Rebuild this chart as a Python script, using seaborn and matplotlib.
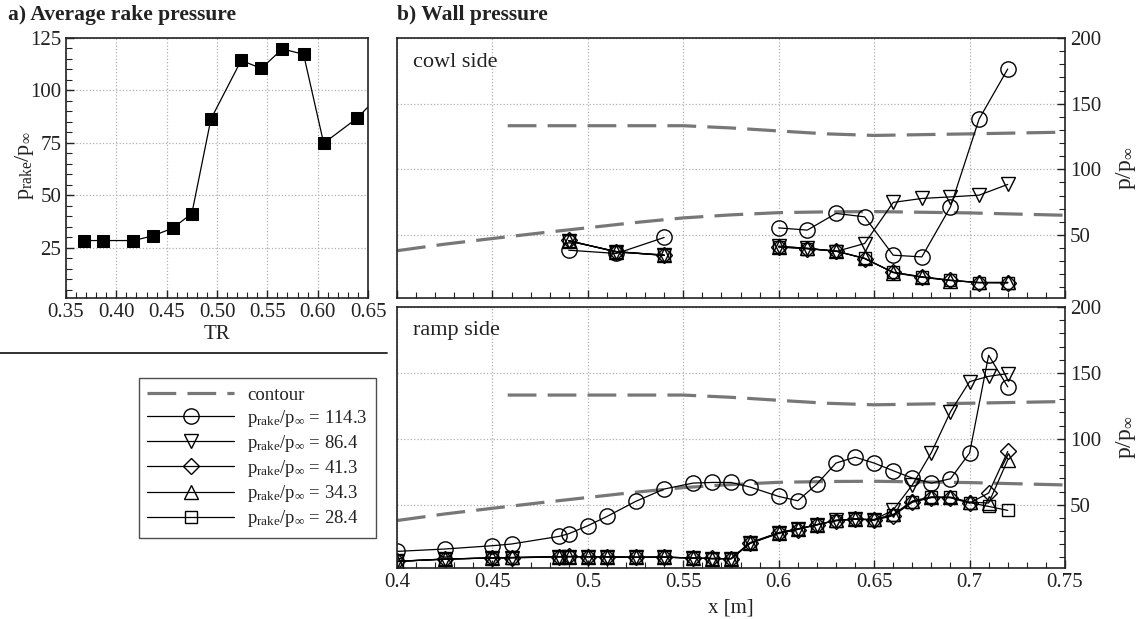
import numpy as np
import pandas as pd
import matplotlib
matplotlib.use("Agg")
import matplotlib.pyplot as plt
from matplotlib.lines import Line2D
from matplotlib.ticker import MultipleLocator, FuncFormatter
import seaborn as sns

# ---------------- a) average rake pressure vs throttling ratio ----------------
tr = [0.368, 0.387, 0.417, 0.436, 0.456, 0.475, 0.494, 0.524, 0.544, 0.565,
      0.586, 0.606, 0.639, 0.660]
p_rake = [28.4, 28.4, 28.4, 30.6, 34.3, 41.3, 86.4, 114.3, 110.5, 119.8,
          117.2, 74.8, 86.7, 97.0]

# ---------------- b) wall pressure, cowl side ----------------
cowl_x = [0.49, 0.515, 0.54, 0.60, 0.615, 0.63, 0.645, 0.66, 0.675, 0.69, 0.705, 0.72]
cowl_seg = [0, 0, 0, 1, 1, 1, 1, 1, 1, 1, 1, 1]
cowl_114 = [38.4, 35.9, 48.1, 55.4, 53.7, 66.4, 63.8, 34.6, 33.3, 71.4, 138.3, 176.4]
cowl_86 = [45.5, 37.3, 34.4, 41.5, 39.8, 37.4, 43.5, 74.8, 77.8, 79.0, 80.3, 88.5]
cowl_41 = [45.8, 37.0, 34.8, 41.0, 39.5, 37.9, 32.0, 21.6, 18.2, 15.6, 13.6, 13.8]
cowl_34 = [45.3, 37.4, 34.6, 41.2, 39.9, 37.6, 32.3, 21.3, 17.8, 15.3, 13.9, 13.9]
cowl_28 = [45.6, 37.1, 34.5, 40.8, 39.6, 37.7, 32.1, 21.5, 18.0, 15.4, 13.7, 13.4]

# ---------------- b) wall pressure, ramp side ----------------
ramp_x = [0.40, 0.425, 0.45, 0.46, 0.485, 0.49, 0.50, 0.51, 0.525, 0.54, 0.555,
          0.565, 0.575, 0.585, 0.60, 0.61, 0.62, 0.63, 0.64, 0.65, 0.66, 0.67,
          0.68, 0.69, 0.70, 0.71, 0.72]
ramp_114 = [14.6, 16.4, 18.9, 20.2, 26.0, 28.0, 34.1, 41.1, 52.5, 61.9, 66.4,
            66.9, 66.9, 63.4, 56.3, 53.0, 65.7, 81.6, 86.1, 81.6, 75.8, 70.2,
            66.4, 69.7, 89.2, 163.4, 139.4]
ramp_86 = [7.0, 8.8, 9.6, 9.9, 10.6, 10.6, 10.6, 10.4, 10.2, 10.2, 9.6,
           9.1, 9.1, 21.0, 28.6, 31.6, 34.8, 38.1, 39.1, 38.6, 46.0, 65.0,
           89.6, 120.5, 143.4, 147.4, 149.5]
ramp_41 = [7.2, 8.6, 9.8, 9.7, 10.4, 10.8, 10.4, 10.6, 10.0, 10.4, 9.4,
           9.3, 8.9, 20.6, 28.2, 31.2, 35.0, 37.8, 39.4, 38.2, 41.8, 51.8,
           55.4, 55.3, 51.2, 58.9, 90.4]
ramp_34 = [6.8, 8.9, 9.5, 10.0, 10.7, 10.5, 10.7, 10.3, 10.3, 10.1, 9.7,
           9.0, 9.2, 21.3, 28.8, 31.8, 34.6, 38.3, 38.9, 38.8, 42.6, 52.8,
           56.0, 55.8, 52.0, 51.3, 84.0]
ramp_28 = [7.1, 8.7, 9.7, 9.8, 10.5, 10.7, 10.5, 10.5, 10.1, 10.3, 9.5,
           9.2, 9.0, 20.8, 28.5, 31.5, 34.9, 38.0, 39.2, 38.5, 42.3, 52.4,
           55.6, 55.5, 51.6, 48.7, 45.7]

# ---------------- geometry contours (scaled) ----------------
contour_low_x = [0.40, 0.425, 0.45, 0.475, 0.50, 0.525, 0.55, 0.575, 0.60,
                 0.625, 0.65, 0.70, 0.75]
contour_low = [38.0, 43.0, 47.3, 51.5, 55.5, 59.5, 63.0, 65.3, 67.0, 67.6,
               67.8, 66.8, 65.0]
contour_up_x = [0.458, 0.55, 0.575, 0.60, 0.625, 0.65, 0.70, 0.75]
contour_up = [133.2, 133.2, 131.5, 129.2, 127.0, 125.8, 127.0, 128.3]

cases = ["114.3", "86.4", "41.3", "34.3", "28.4"]
markers = {"114.3": "o", "86.4": "v", "41.3": "D", "34.3": "^", "28.4": "s"}
msizes = {"114.3": 11, "86.4": 10, "41.3": 8, "34.3": 10, "28.4": 8}

# ---------------- style ----------------
sns.set_style("ticks")
plt.rcParams.update({
    "font.family": ["Liberation Serif", "DejaVu Serif"],
    "mathtext.fontset": "custom",
    "mathtext.rm": "Liberation Serif",
    "mathtext.it": "Liberation Serif:italic",
    "mathtext.bf": "Liberation Serif:bold",
    "xtick.direction": "in",
    "ytick.direction": "in",
    "axes.edgecolor": "#222222",
    "axes.linewidth": 1.2,
    "xtick.color": "#222222",
    "ytick.color": "#222222",
    "text.color": "#222222",
    "axes.labelcolor": "#222222",
})

PR = r"$\mathrm{p_{rake}/p_{\infty}}$"
GRID = dict(which="major", linestyle=":", color="#b0b0b0", linewidth=0.9)
CONTOUR = dict(color="#777777", linewidth=2.3, linestyle=(0, (9, 3.5)))
W, H = 1142, 619

fig = plt.figure(figsize=(W / 100, H / 100), dpi=100)
ax_a = fig.add_axes([66 / W, 1 - 298 / H, 302 / W, 260 / H])
ax_top = fig.add_axes([397 / W, 1 - 298 / H, 668 / W, 260 / H])
ax_bot = fig.add_axes([397 / W, 1 - 568 / H, 668 / W, 261 / H])

# ---- panel a ----
sns.lineplot(x=tr, y=p_rake, ax=ax_a, estimator=None, color="black",
             linewidth=0.9, marker="s", markersize=9,
             markeredgecolor="black", markerfacecolor="black")
ax_a.set_xlim(0.35, 0.65)
ax_a.set_ylim(1, 125)
ax_a.xaxis.set_major_locator(MultipleLocator(0.05))
ax_a.xaxis.set_minor_locator(MultipleLocator(0.01))
ax_a.yaxis.set_major_locator(MultipleLocator(25))
ax_a.yaxis.set_minor_locator(MultipleLocator(5))
ax_a.xaxis.set_major_formatter(FuncFormatter(lambda v, p: f"{v:.2f}"))
ax_a.tick_params(which="both", top=False, right=False, labelsize=15)
ax_a.tick_params(which="major", length=6, width=1)
ax_a.tick_params(which="minor", length=4, width=0.8)
ax_a.grid(True, **GRID)
ax_a.set_xlabel("TR", fontsize=15, labelpad=2)
ax_a.set_ylabel(PR, fontsize=16)
ax_a.yaxis.set_label_coords(-0.1, 0.51)


def wall_panel(ax, xs, series, seg=None):
    sns.lineplot(x=contour_low_x, y=contour_low, ax=ax, estimator=None, **CONTOUR)
    sns.lineplot(x=contour_up_x, y=contour_up, ax=ax, estimator=None, **CONTOUR)
    units = seg if seg is not None else [0] * len(xs)
    for case in reversed(cases):
        sns.lineplot(x=xs, y=series[case], units=units, estimator=None, ax=ax,
                     color="black", linewidth=0.9, marker=markers[case],
                     markersize=msizes[case], markerfacecolor="none",
                     markeredgecolor="black", markeredgewidth=1.0)
    ax.set_xlim(0.4, 0.75)
    ax.set_ylim(2, 200)
    ax.xaxis.set_major_locator(MultipleLocator(0.05))
    ax.xaxis.set_minor_locator(MultipleLocator(0.01))
    ax.yaxis.set_major_locator(MultipleLocator(50))
    ax.yaxis.set_minor_locator(MultipleLocator(10))
    ax.xaxis.set_major_formatter(FuncFormatter(lambda v, p: f"{v:g}"))
    ax.yaxis.tick_right()
    ax.yaxis.set_label_position("right")
    ax.tick_params(which="both", left=False, top=False, right=True, labelsize=15)
    ax.tick_params(which="major", length=6, width=1)
    ax.tick_params(which="minor", length=4, width=0.8)
    ax.grid(True, **GRID)
    ax.set_ylabel(r"$\mathrm{p/p_{\infty}}$", fontsize=17, labelpad=9)


wall_panel(ax_top, cowl_x,
           {"114.3": cowl_114, "86.4": cowl_86, "41.3": cowl_41,
            "34.3": cowl_34, "28.4": cowl_28}, seg=cowl_seg)
ax_top.tick_params(labelbottom=False)
ax_top.set_xlabel("")
ax_top.text(0.024, 0.905, "cowl side", transform=ax_top.transAxes,
            fontsize=16, va="center", ha="left")

wall_panel(ax_bot, ramp_x,
           {"114.3": ramp_114, "86.4": ramp_86, "41.3": ramp_41,
            "34.3": ramp_34, "28.4": ramp_28})
ax_bot.set_xlabel("x [m]", fontsize=15, labelpad=5)
ax_bot.text(0.024, 0.91, "ramp side", transform=ax_bot.transAxes,
            fontsize=16, va="center", ha="left")

# ---- headings and separator ----
fig.text(8 / W, 1 - 15 / H, "a) Average rake pressure", fontsize=15.5,
         fontweight="bold", va="center", ha="left")
fig.text(397 / W, 1 - 15 / H, "b) Wall pressure", fontsize=15.5,
         fontweight="bold", va="center", ha="left")
fig.add_artist(Line2D([0, 387 / W], [1 - 353 / H, 1 - 353 / H],
                      transform=fig.transFigure, color="#222222", linewidth=1.3))

# ---- shared legend ----
handles = [Line2D([], [], **CONTOUR)]
labels = ["contour"]
for case in cases:
    handles.append(Line2D([], [], color="black", linewidth=0.9,
                          marker=markers[case], markersize=msizes[case],
                          markerfacecolor="none", markeredgecolor="black"))
    labels.append(f"{PR} = {case}")
leg = fig.legend(handles, labels, loc="upper left",
                 bbox_to_anchor=(139 / W, 1 - 378 / H), borderaxespad=0,
                 frameon=True, fancybox=False, edgecolor="#222222",
                 fontsize=13.5, handlelength=4.6, labelspacing=0.22,
                 borderpad=0.45, handletextpad=0.7)
leg.get_frame().set_linewidth(1.0)

fig.savefig("out.png", dpi=100)
